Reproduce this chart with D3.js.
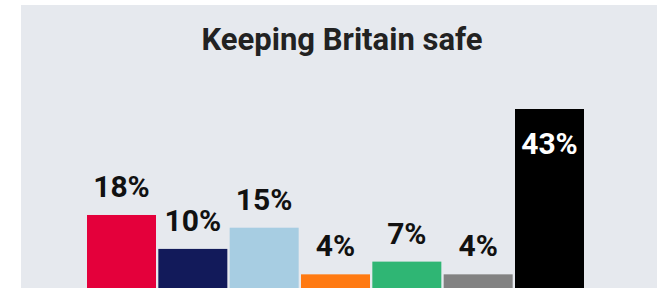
<!DOCTYPE html>
<html>
<head>
<meta charset="utf-8">
<script src="https://cdn.jsdelivr.net/npm/d3@7/dist/d3.min.js"></script>
<style>
  html, body { margin: 0; padding: 0; background: #ffffff; }
  svg { display: block; }
</style>
</head>
<body>
<script>
const title = "Keeping Britain safe";
const categories = ["Labour", "Conservative", "Reform UK", "Liberal Democrat", "Green", "Other", "Don't know"];
const values = [18, 10, 15, 4, 7, 4, 43];
const colors = ["#e4003b", "#121a5a", "#a7cde2", "#ff7a12", "#2fb674", "#828282", "#000000"];

const W = 657, H = 288;
const svg = d3.select("body").append("svg").attr("width", W).attr("height", H);

svg.append("rect").attr("x", 21).attr("y", 5).attr("width", W - 21).attr("height", H - 5).attr("fill", "#e6e9ee");

const x = d3.scaleBand().domain(categories).range([87, 584]).paddingInner(0.0327).paddingOuter(0);
const y = d3.scaleLinear().domain([0, 43]).range([291.3, 109]);

const data = categories.map((c, i) => ({ c, v: values[i], col: colors[i] }));
const maxV = d3.max(values);

svg.append("text")
  .attr("x", 342).attr("y", 50)
  .attr("text-anchor", "middle")
  .attr("font-family", "Roboto, 'Noto Sans', sans-serif")
  .attr("font-weight", 700)
  .attr("font-size", 31)
  .attr("fill", "#222222")
  .text(title);

svg.append("g").selectAll("rect").data(data).join("rect")
  .attr("x", d => x(d.c))
  .attr("y", d => y(d.v))
  .attr("width", x.bandwidth())
  .attr("height", d => y(0) - y(d.v))
  .attr("fill", d => d.col);

svg.append("g").selectAll("text").data(data).join("text")
  .attr("x", d => x(d.c) + x.bandwidth() / 2)
  .attr("y", d => d.v === maxV ? y(d.v) + 45 : y(d.v) - 18)
  .attr("text-anchor", "middle")
  .attr("font-family", "Roboto, 'Noto Sans', sans-serif")
  .attr("font-weight", 700)
  .attr("font-size", 30)
  .attr("fill", d => d.v === maxV ? "#ffffff" : "#111111")
  .text(d => d.v + "%");
</script>
</body>
</html>
